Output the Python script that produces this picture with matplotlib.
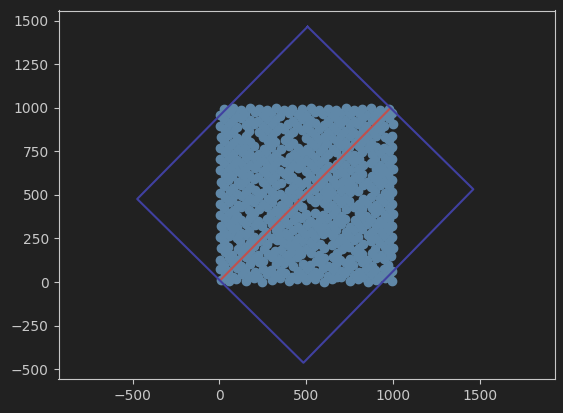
import matplotlib
matplotlib.use("Agg")
import matplotlib.pyplot as plt

# scatter points, one line per horizontal band
xs = [
    8, 55, 98, 152, 197, 246, 301, 349, 402, 447, 498, 553, 604, 648, 702, 751, 797, 853, 902, 951, 992,
    30, 77, 128, 171, 224, 276, 322, 377, 421, 474, 526, 573, 628, 679, 722, 776, 829, 874, 927, 978,
    5, 52, 104, 149, 203, 251, 298, 355, 453, 502, 548, 597, 655, 699, 748, 801, 846, 898, 949, 996,
    27, 81, 123, 177, 229, 327, 372, 426, 479, 521, 579, 624, 672, 727, 771, 823, 879, 972,
    3, 57, 99, 155, 196, 249, 305, 346, 404, 449, 556, 601, 652, 697, 754, 799, 851, 903, 946, 990,
    32, 73, 131, 174, 221, 279, 318, 381, 419, 471, 529, 571, 676, 779, 821, 877, 929, 975,
    9, 51, 106, 147, 201, 256, 352, 399, 455, 501, 546, 602, 651, 704, 746, 804, 896, 952, 997,
    26, 121, 178, 226, 273, 329, 369, 428, 476, 524, 577, 679, 726, 774, 826, 871, 924, 979,
    4, 56, 102, 153, 199, 252, 302, 348, 401, 452, 496, 551, 598, 654, 701, 749, 798, 854, 899, 948, 994,
    29, 76, 127, 172, 271, 324, 378, 423, 473, 527, 574, 626, 673, 728, 773, 822, 876, 928, 973,
    7, 54, 103, 151, 204, 247, 303, 351, 397, 451, 503, 549, 603, 649, 703, 752, 802, 849, 901, 953, 993,
    31, 78, 124, 176, 223, 277, 321, 374, 427, 472, 522, 578, 621, 677, 724, 778, 827, 873, 922, 977,
    2, 58, 101, 202, 299, 347, 403, 448, 499, 552, 599, 653, 698, 803, 847, 897, 951, 998,
    28, 82, 126, 173, 227, 274, 326, 371, 422, 478, 623, 674, 729, 776, 824, 878, 926, 974,
    6, 53, 107, 152, 198, 254, 301, 353, 398, 454, 553, 600, 648, 702, 748, 801, 852, 903, 947, 995,
    33, 74, 129, 177, 222, 278, 323, 376, 424, 474, 528, 572, 627, 678, 722, 828, 872, 925, 976,
    1, 59, 100, 154, 203, 248, 304, 349, 402, 450, 502, 547, 604, 650, 699, 751, 799, 898, 952, 996,
    27, 80, 122, 175, 272, 327, 426, 471, 526, 573, 625, 672, 727, 772, 826, 874, 923, 979,
    8, 52, 105, 149, 200, 251, 298, 354, 401, 449, 500, 554, 598, 652, 704, 747, 803, 851, 900, 949, 992,
    30, 75, 128, 171, 225, 276, 320, 377, 421, 521, 577, 622, 676, 721, 779, 823, 877, 927, 972,
    4, 57, 103, 150, 205, 249, 304, 350, 399, 453, 498, 550, 601, 649, 703, 753, 797, 902, 950, 997,
    29, 81, 125, 178, 224, 275, 322, 378, 423, 476, 525, 571, 628, 675, 726, 774, 829, 871, 924, 977,
    6, 54, 101, 154, 199, 252, 300, 348, 404, 451, 501, 548, 603, 698, 750, 804, 897, 953, 994,
    32, 77, 130, 173, 227, 271, 325, 427, 473, 523, 578, 624, 673, 728, 776, 821, 878, 925, 975,
    3, 55, 106, 148, 201, 255, 297, 352, 400, 450, 503, 551, 597, 654, 700, 749, 802, 853, 899, 948, 996,
    28, 79, 123, 176, 279, 321, 375, 425, 527, 574, 621, 679, 723, 778, 827, 873, 978,
    7, 51, 104, 153, 250, 303, 402, 499, 552, 602, 650, 701, 752, 798, 849, 901, 951, 993,
    31, 76, 172, 228, 273, 326, 371, 422, 477, 522, 576, 626, 674, 725, 771, 825, 876, 922,
    2, 58, 102, 151, 197, 253, 302, 351, 398, 448, 502, 549, 600, 653, 697, 754, 800, 847, 904, 950, 997,
    29, 78, 126, 177, 223, 277, 320, 424, 475, 524, 623, 677, 721, 777, 822, 877, 926, 976,
    5, 53, 100, 150, 204, 251, 299, 349, 403, 452, 500, 553, 599, 651, 702, 750, 801, 851, 898, 949, 995,
    26, 80, 124, 174, 226, 272, 324, 373, 421, 474, 526, 575, 625, 672, 727, 775, 824, 875, 923, 979,
]
ys = [
    12, 3, 18, 7, 22, 0, 14, 25, 4, 17, 9, 20, 2, 15, 26, 6, 19, 1, 13, 23, 8,
    41, 30, 48, 35, 27, 44, 38, 51, 29, 40, 33, 46, 37, 28, 49, 42, 31, 45, 36, 39,
    72, 63, 80, 67, 58, 76, 70, 61, 66, 74, 59, 78, 69, 64, 81, 60, 73, 68, 77, 62,
    97, 110, 92, 104, 115, 101, 112, 90, 106, 99, 114, 93, 103, 109, 96, 113, 91, 100,
    128, 139, 124, 144, 131, 122, 141, 135, 126, 146, 121, 137, 145, 127, 132, 143, 125, 138, 130, 147,
    170, 158, 167, 176, 154, 163, 178, 157, 172, 160, 169, 155, 165, 177, 162, 168, 156, 173,
    193, 204, 188, 199, 209, 191, 186, 207, 195, 189, 205, 197, 210, 190, 201, 194, 187, 200, 196,
    233, 238, 226, 235, 219, 241, 228, 223, 237, 230, 220, 225, 232, 242, 221, 234, 227, 236,
    257, 266, 252, 270, 259, 263, 254, 272, 260, 250, 268, 256, 273, 262, 251, 267, 258, 269, 253, 264, 261,
    289, 299, 284, 295, 287, 297, 283, 300, 291, 286, 304, 290, 298, 285, 296, 303, 288, 294, 301,
    321, 330, 317, 334, 326, 319, 335, 323, 331, 316, 328, 336, 320, 327, 333, 318, 325, 332, 322, 329, 324,
    362, 350, 358, 366, 353, 360, 348, 364, 355, 367, 351, 359, 365, 349, 361, 354, 368, 356, 352, 363,
    385, 394, 380, 398, 392, 387, 396, 381, 390, 399, 384, 393, 379, 397, 382, 395, 386, 392,
    425, 416, 429, 412, 421, 431, 414, 426, 418, 430, 428, 415, 422, 432, 417, 427, 411, 423,
    449, 458, 444, 455, 462, 447, 457, 443, 461, 450, 459, 452, 442, 456, 463, 448, 454, 445, 460, 451,
    489, 479, 494, 483, 490, 476, 492, 481, 488, 495, 478, 486, 491, 480, 484, 477, 489, 482, 487,
    513, 522, 508, 519, 526, 511, 520, 506, 524, 515, 509, 527, 516, 510, 523, 518, 525, 521, 514, 520,
    553, 543, 557, 546, 540, 559, 544, 556, 541, 552, 547, 558, 542, 550, 555, 545, 558, 549,
    577, 587, 573, 583, 590, 575, 585, 571, 589, 580, 574, 588, 578, 586, 572, 582, 591, 576, 584, 579, 586,
    617, 608, 621, 612, 605, 619, 610, 623, 606, 611, 622, 607, 618, 613, 604, 620, 609, 615, 622,
    641, 650, 636, 647, 654, 639, 652, 637, 646, 655, 640, 648, 643, 653, 638, 645, 651, 649, 642, 647,
    681, 672, 686, 675, 683, 668, 679, 688, 671, 682, 676, 685, 669, 680, 674, 687, 673, 684, 670, 678,
    705, 714, 700, 711, 718, 703, 713, 699, 716, 707, 702, 719, 708, 715, 710, 704, 706, 712, 709,
    745, 736, 749, 740, 733, 747, 738, 734, 744, 739, 750, 735, 746, 741, 732, 748, 737, 743, 752,
    769, 778, 764, 775, 782, 767, 777, 763, 780, 771, 766, 783, 772, 765, 779, 774, 781, 768, 776, 770, 777,
    809, 800, 813, 804, 811, 802, 815, 798, 803, 814, 799, 810, 805, 796, 812, 801, 816,
    833, 842, 828, 839, 831, 841, 844, 830, 847, 836, 829, 843, 838, 845, 832, 840, 834, 841,
    873, 864, 868, 861, 875, 866, 879, 862, 872, 867, 878, 863, 874, 869, 860, 876, 865, 871,
    897, 906, 892, 903, 910, 895, 905, 891, 908, 899, 894, 911, 900, 893, 907, 902, 909, 896, 904, 898, 905,
    937, 928, 941, 932, 925, 939, 930, 926, 936, 931, 927, 938, 933, 924, 940, 929, 935, 944,
    961, 970, 956, 967, 974, 959, 969, 955, 972, 963, 958, 975, 964, 957, 971, 966, 973, 960, 968, 962, 969,
    992, 997, 988, 999, 994, 990, 998, 986, 996, 993, 999, 989, 995, 991, 998, 987, 994, 999, 990, 996,
]

# fitted line end points
line_x = [10, 985]
line_y = [15, 1000]

# rotated bounding box corners (closed)
box_x = [508, 1462, 484, -473, 508]
box_y = [1467, 533, -464, 477, 1467]

xticks = [-500, 0, 500, 1000, 1500]
yticks = [-500, -250, 0, 250, 500, 750, 1000, 1250, 1500]

BG = "#212121"
FG = "#c8c8c8"

fig = plt.figure(figsize=(5.63, 4.13), dpi=100, facecolor=BG)
ax = fig.add_axes([58.5 / 563, (413 - 379.3) / 413, 496.3 / 563, 368.8 / 413])
ax.set_facecolor(BG)

ax.scatter(xs, ys, s=36, color="#6088a8", zorder=2)
ax.plot(line_x, line_y, color="#c0504d", lw=1.5, zorder=3)
ax.plot(box_x, box_y, color="#4040a0", lw=1.5, zorder=3)

ax.set_xlim(-926, 1931)
ax.set_ylim(-559, 1560)
ax.set_xticks(xticks)
ax.set_yticks(yticks)

for sp in ax.spines.values():
    sp.set_color(FG)
ax.tick_params(colors=FG, labelcolor=FG, labelsize=10)

fig.savefig("out.png", dpi=100, facecolor=BG)
